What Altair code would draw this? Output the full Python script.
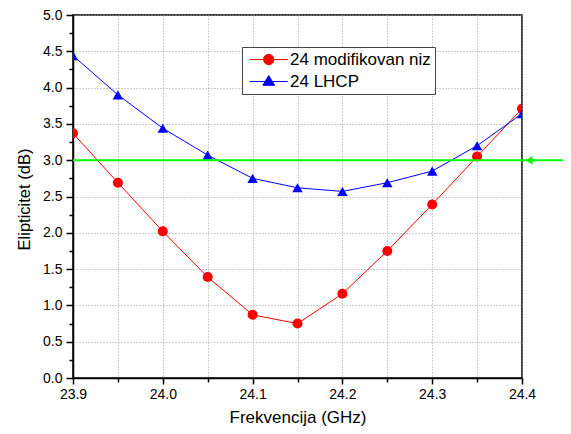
import altair as alt
import pandas as pd

# ---- data ----
freq = [23.9, 23.95, 24.0, 24.05, 24.1, 24.15, 24.2, 24.25, 24.3, 24.35, 24.4]
modifikovan = [3.37, 2.69, 2.02, 1.39, 0.87, 0.75, 1.16, 1.75, 2.39, 3.05, 3.71]
lhcp = [4.44, 3.90, 3.44, 3.07, 2.75, 2.62, 2.57, 2.69, 2.85, 3.20, 3.64]
series_names = ["24 modifikovan niz", "24 LHCP"]
series_colors = ["#ff0000", "#0000ff"]
threshold = [3.0]

x_major = [23.9, 24.0, 24.1, 24.2, 24.3, 24.4]
x_minor = [23.95, 24.05, 24.15, 24.25, 24.35]
y_major = [0.0, 0.5, 1.0, 1.5, 2.0, 2.5, 3.0, 3.5, 4.0, 4.5, 5.0]
y_minor = [0.25, 0.75, 1.25, 1.75, 2.25, 2.75, 3.25, 3.75, 4.25, 4.75]

rows = []
for name, vals in zip(series_names, [modifikovan, lhcp]):
    for f, v in zip(freq, vals):
        rows.append({"freq": f, "val": v, "series": name})
df = pd.DataFrame(rows)
thr_df = pd.DataFrame({"val": threshold})

FONT = "Liberation Sans"
xscale = alt.Scale(domain=[23.9, 24.4], nice=False, zero=False)
yscale = alt.Scale(domain=[0, 5], nice=False, zero=True)
cscale = alt.Scale(domain=series_names, range=series_colors)

grid_kw = dict(grid=True, gridColor="#a0a0a0", gridDash=[1, 2], gridWidth=1)

x_axis_major = alt.Axis(values=x_major, format=".1f", title="Frekvencija (GHz)", orient="bottom",
                        tickSize=6, tickWidth=1.5, tickColor="black", labelPadding=3, labelFlush=False,
                        labelFont=FONT, labelFontSize=14, labelColor="black",
                        domainColor="black", domainWidth=1.5,
                        titleFont=FONT, titleFontSize=17, titleFontWeight="normal", titleColor="black",
                        titleY=44, titleBaseline="alphabetic", **grid_kw)
y_axis_major = alt.Axis(values=y_major, format=".1f", title="Elipticitet (dB)", orient="left",
                        tickSize=7, tickWidth=1.5, tickColor="black", labelPadding=4, labelFlush=False,
                        labelFont=FONT, labelFontSize=14, labelColor="black",
                        domainColor="black", domainWidth=1.5,
                        titleFont=FONT, titleFontSize=16.5, titleFontWeight="normal", titleColor="black",
                        titleX=-44, titleY=184, titleBaseline="alphabetic", **grid_kw)
x_axis_minor = alt.Axis(values=x_minor, labels=False, title=None, orient="bottom", domain=False,
                        tickSize=4, tickWidth=1.5, tickColor="black", **grid_kw)
y_axis_minor = alt.Axis(values=y_minor, labels=False, title=None, orient="left", domain=False,
                        tickSize=4, tickWidth=1.5, tickColor="black", grid=False)

base = alt.Chart(df)

circle_path = "M-1,0L7,0M1.9,0A1.1,1.1 0 1,0 4.1,0A1.1,1.1 0 1,0 1.9,0Z"
tri_path = "M-1,0L7,0M1.75,0.8L3,-1.25L4.25,0.8Z"
leg = alt.Legend(title=None, orient="none", legendX=169, legendY=32, padding=4,
                 fillColor="white", strokeColor="#444444", cornerRadius=0,
                 labelFont=FONT, labelFontSize=17, labelColor="black",
                 labelOffset=27, rowPadding=4, symbolSize=90, symbolStrokeWidth=1)
legend_layer = base.transform_filter("false").mark_point(filled=True, size=90, strokeWidth=1, opacity=1).encode(
    x=alt.X("freq:Q", scale=xscale, axis=x_axis_minor),
    y=alt.Y("val:Q", scale=yscale, axis=y_axis_minor),
    color=alt.Color("series:N", scale=cscale, legend=leg),
    stroke=alt.Stroke("series:N", scale=cscale, legend=leg),
    shape=alt.Shape("series:N", scale=alt.Scale(domain=series_names, range=[circle_path, tri_path]), legend=leg),
)

line_layers = []
point_layers = []
for name, col, shp, sz in zip(series_names, series_colors, ["circle", "triangle-up"], [100, 110]):
    sub = base.transform_filter(alt.datum.series == name)
    line_layers.append(sub.mark_line(clip=True, strokeWidth=1, color=col).encode(
        x=alt.X("freq:Q", scale=xscale, axis=x_axis_major if not line_layers else None),
        y=alt.Y("val:Q", scale=yscale, axis=y_axis_major if not line_layers else None),
    ))
    point_layers.append(sub.mark_point(shape=shp, filled=True, size=sz, opacity=1, clip=True, color=col).encode(
        x=alt.X("freq:Q", scale=xscale, axis=None),
        y=alt.Y("val:Q", scale=yscale, axis=None),
    ))

thr_rule = alt.Chart(thr_df).mark_rule(color="#00ff00", strokeWidth=2, clip=False).encode(
    y=alt.Y("val:Q", scale=yscale, axis=None),
    x=alt.value(0), x2=alt.value(520),
)
thr_arrow = alt.Chart(thr_df).mark_point(shape="triangle-left", filled=True, size=70, color="#00ff00",
                                         opacity=1, clip=False, xOffset=7).encode(
    y=alt.Y("val:Q", scale=yscale, axis=None),
    x=alt.datum(24.4, scale=xscale, axis=None),
)

chart = alt.layer(legend_layer, *line_layers, *point_layers, thr_rule, thr_arrow).resolve_axis(
    x="independent", y="independent"
).properties(
    width=449, height=363,
    autosize=alt.AutoSizeParams(type="none"),
    padding={"left": 65, "top": 7, "right": 41, "bottom": 48},
    background="white",
).configure_view(stroke="black", strokeWidth=1.5)

chart.save("out.html", embed_options={"renderer": "svg", "actions": False})
